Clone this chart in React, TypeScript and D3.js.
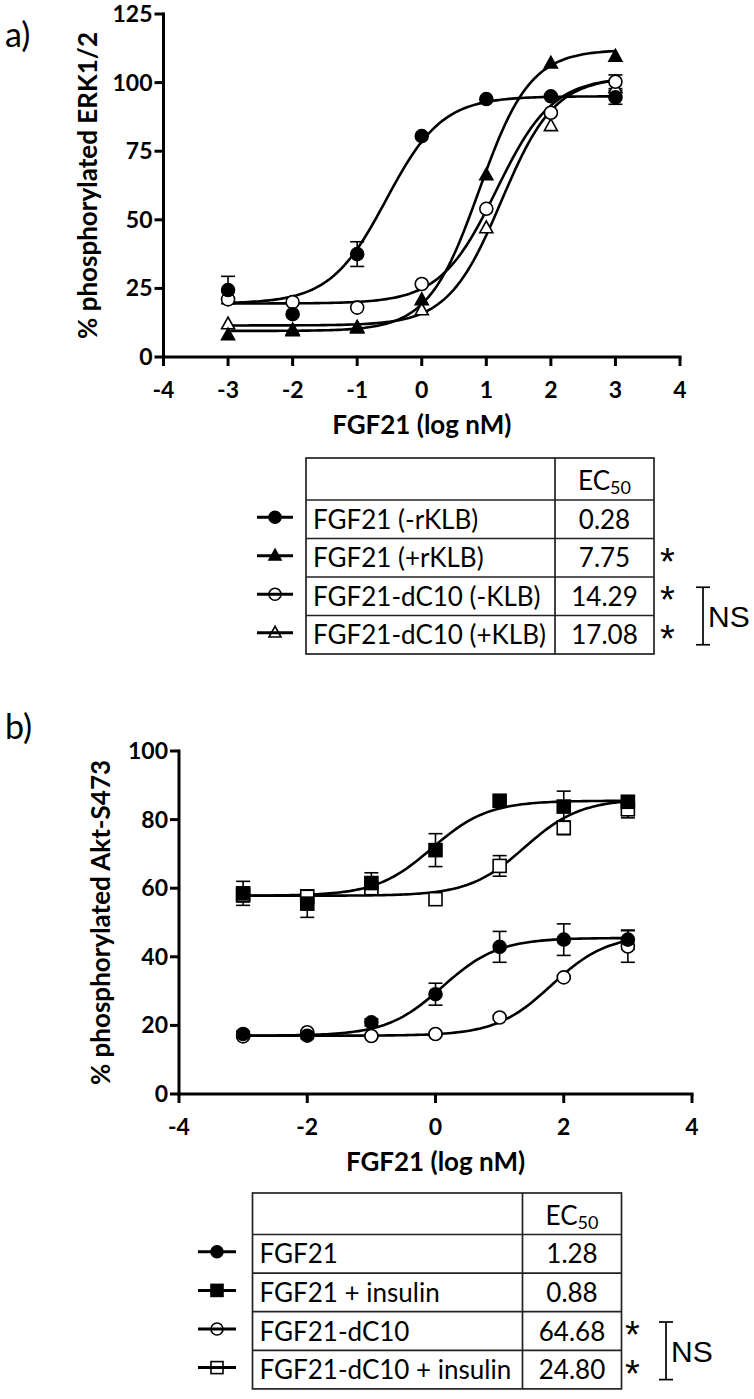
import React from 'react';
import * as d3 from 'd3';

// ---------- data ----------
const doses = [-3, -2, -1, 0, 1, 2, 3];

// Panel a: % phosphorylated ERK1/2
const aFgf21MinusKLB = [24.4, 15.6, 37.5, 80.5, 94, 95, 94.6];
const aFgf21MinusKLBErr = [5, 0, 4.5, 0, 0, 0, 2.5];
const aFgf21PlusKLB = [8, 9.5, 10.5, 20.8, 66.3, 107, 109.5];
const aFgf21PlusKLBErr = [0, 0, 0, 0, 0, 0, 0];
const aDC10MinusKLB = [21, 20, 18, 26.6, 54, 89, 100.3];
const aDC10MinusKLBErr = [0, 0, 0, 0, 0, 0, 2.5];
const aDC10PlusKLB = [12, 9.8, 10.8, 17.1, 47, 84.2, 98];
const aDC10PlusKLBErr = [0, 0, 0, 0, 0, 0, 0];
// fit params [bottom, top, logEC50, hill]
const aFitFgf21MinusKLB = [19.5, 95, -0.553, 1.0];
const aFitFgf21PlusKLB = [9.5, 112, 0.889, 1.1];
const aFitDC10MinusKLB = [19.5, 102, 1.155, 1.0];
const aFitDC10PlusKLB = [11.5, 102, 1.232, 1.05];

const aLabels = ['FGF21 (-rKLB)', 'FGF21 (+rKLB)', 'FGF21-dC10 (-KLB)', 'FGF21-dC10 (+KLB)'];
const aEC50 = ['0.28', '7.75', '14.29', '17.08'];
const aStars = [false, true, true, true];
const aTicksY = [0, 25, 50, 75, 100, 125];
const aTicksX = [-4, -3, -2, -1, 0, 1, 2, 3, 4];

// Panel b: % phosphorylated Akt-S473
const bFgf21 = [17.5, 17, 20.9, 29.1, 42.9, 45, 45];
const bFgf21Err = [0.8, 0.8, 1, 3.2, 4.5, 4.6, 2.8];
const bFgf21Ins = [58.5, 55.5, 61.5, 71.1, 85.5, 83.8, 85.2];
const bFgf21InsErr = [3.5, 4, 3, 4.8, 0, 4.5, 1];
const bDC10 = [16.8, 18, 16.9, 17.5, 22.3, 34, 43];
const bDC10Err = [0.5, 0.5, 0.5, 0.5, 0.5, 0.5, 4.6];
const bDC10Ins = [58, 57.5, 60, 56.8, 66.5, 77.6, 83];
const bDC10InsErr = [2, 2, 1, 0, 3, 2, 2.5];
const bFitFgf21 = [17, 45.5, 0.107, 1.0];
const bFitFgf21Ins = [57.8, 85.5, -0.055, 1.0];
const bFitDC10 = [17, 46.5, 1.81, 1.0];
const bFitDC10Ins = [57.8, 86, 1.39, 1.0];

const bLabels = ['FGF21', 'FGF21 + insulin', 'FGF21-dC10', 'FGF21-dC10 + insulin'];
const bEC50 = ['1.28', '0.88', '64.68', '24.80'];
const bStars = [false, false, true, true];
const bTicksY = [0, 20, 40, 60, 80, 100];
const bTicksX = [-4, -2, 0, 2, 4];

// ---------- helpers ----------
type Shape = 'circle' | 'triangle' | 'square';
interface Series { y: number[]; err: number[]; fit: number[]; shape: Shape; filled: boolean; }

const LABEL_FONT = 'Lato, "Open Sans", sans-serif';
const ARIAL = '"Liberation Sans", Arial, sans-serif';

function fourPL(p: number[], x: number) {
  const [bottom, top, logEC50, hill] = p;
  return bottom + (top - bottom) / (1 + Math.pow(10, (logEC50 - x) * hill));
}

function Marker({ shape, filled, cx, cy, s, hollow }: { shape: Shape; filled: boolean; cx: number; cy: number; s: number; hollow?: boolean }) {
  const fill = filled ? '#000' : (hollow ? 'none' : '#fff');
  const sw = 1.6;
  if (shape === 'circle') return <circle cx={cx} cy={cy} r={s / 2} fill={fill} stroke="#000" strokeWidth={sw} />;
  if (shape === 'square') return <rect x={cx - s / 2} y={cy - s / 2} width={s} height={s} fill={fill} stroke="#000" strokeWidth={sw} />;
  const h = s * 0.9;
  const pts = `${cx},${cy - h * 0.6} ${cx - s / 2},${cy + h * 0.4} ${cx + s / 2},${cy + h * 0.4}`;
  return <polygon points={pts} fill={fill} stroke="#000" strokeWidth={sw} />;
}

interface PanelProps {
  series: Series[];
  xRange: [number, number];
  yRange: [number, number];
  yMax: number;
  ticksX: number[];
  ticksY: number[];
  yTitle: string;
  yTitleX: number;
  tag: string;
  tagY: number;
}

function Panel({ series, xRange, yRange, yMax, ticksX, ticksY, yTitle, yTitleX, tag, tagY }: PanelProps) {
  const x = d3.scaleLinear().domain([-4, 4]).range(xRange);
  const y = d3.scaleLinear().domain([0, yMax]).range(yRange);
  const xs = d3.range(-3, 3.0001, 0.05);
  const x0 = xRange[0];
  const yBase = yRange[0];
  const drawOrder = series.map((_, i) => i).reverse();
  return (
    <g>
      <text x={5} y={tagY} fontFamily={LABEL_FONT} fontSize={34} fill="#000">{tag}</text>
      {series.map((s, i) => {
        const gen = d3.line<number>().x((d) => x(d)).y((d) => y(fourPL(s.fit, d)));
        return <path key={'c' + i} d={gen(xs) || ''} fill="none" stroke="#000" strokeWidth={2.6} />;
      })}
      {series.map((s, i) => (
        <g key={'e' + i}>
          {doses.map((d, j) => s.err[j] > 0 ? (
            <g key={j} stroke="#000" strokeWidth={1.6}>
              <line x1={x(d)} x2={x(d)} y1={y(s.y[j] - s.err[j])} y2={y(s.y[j] + s.err[j])} />
              <line x1={x(d) - 7} x2={x(d) + 7} y1={y(s.y[j] + s.err[j])} y2={y(s.y[j] + s.err[j])} />
              <line x1={x(d) - 7} x2={x(d) + 7} y1={y(s.y[j] - s.err[j])} y2={y(s.y[j] - s.err[j])} />
            </g>
          ) : null)}
        </g>
      ))}
      {drawOrder.map((i) => {
        const s = series[i];
        return (
          <g key={'m' + i}>
            {doses.map((d, j) => <Marker key={j} shape={s.shape} filled={s.filled} cx={x(d)} cy={y(s.y[j])} s={13} />)}
          </g>
        );
      })}
      <g stroke="#000" strokeWidth={3} fill="none">
        <line x1={x0} x2={x0} y1={y(yMax) - 1.5} y2={yBase + 1.5} />
        <line x1={x0 - 1.5} x2={xRange[1] + 1.5} y1={yBase} y2={yBase} />
        {ticksY.map((t) => <line key={'ty' + t} x1={x0 - 9} x2={x0} y1={y(t)} y2={y(t)} />)}
        {ticksX.map((t) => <line key={'tx' + t} x1={x(t)} x2={x(t)} y1={yBase} y2={yBase + 9} />)}
      </g>
      <g fontFamily={LABEL_FONT} fontWeight={700} fontSize={23} fill="#000">
        {ticksY.map((t) => <text key={'ly' + t} x={x0 - 11} y={y(t) + 8} textAnchor="end">{t}</text>)}
        {ticksX.map((t) => <text key={'lx' + t} x={x(t)} y={yBase + 41} textAnchor="middle">{t}</text>)}
      </g>
      <text x={(xRange[0] + xRange[1]) / 2} y={yBase + 77} textAnchor="middle" fontFamily={LABEL_FONT} fontWeight={700} fontSize={26}>FGF21 (log nM)</text>
      <text transform={`translate(${yTitleX},${(yRange[0] + yRange[1]) / 2}) rotate(-90)`} textAnchor="middle" fontFamily={LABEL_FONT} fontWeight={700} fontSize={26}>{yTitle}</text>
    </g>
  );
}

interface TableProps {
  left: number; mid: number; right: number; top: number; headerH: number; rowH: number;
  labels: string[]; values: string[]; stars: boolean[]; series: Series[];
  legX1: number; legX2: number; starX: number; nsX: number; nsRows: [number, number];
}

function EcTable({ left, mid, right, top, headerH, rowH, labels, values, stars, series, legX1, legX2, starX, nsX, nsRows }: TableProps) {
  const rowTop = (i: number) => top + headerH + i * rowH;
  const rowC = (i: number) => rowTop(i) + rowH / 2;
  const bottom = rowTop(labels.length);
  const legC = (legX1 + legX2) / 2;
  const nsTop = rowC(nsRows[0]) - 9;
  const nsBot = rowC(nsRows[1]) + 10;
  return (
    <g>
      <g stroke="#222" strokeWidth={1.7} fill="none">
        <rect x={left} y={top} width={right - left} height={bottom - top} />
        <line x1={mid} x2={mid} y1={top} y2={bottom} />
        {labels.map((_, i) => <line key={i} x1={left} x2={right} y1={rowTop(i)} y2={rowTop(i)} />)}
      </g>
      <text x={(mid + right) / 2} y={top + headerH - 10} textAnchor="middle" fontFamily={LABEL_FONT} fontSize={26}>
        EC<tspan fontSize={18} dy={4}>50</tspan>
      </text>
      {labels.map((l, i) => (
        <g key={i}>
          <text x={left + 7} y={rowC(i) + 9.5} fontFamily={LABEL_FONT} fontSize={26}>{l}</text>
          <text x={(mid + right) / 2} y={rowC(i) + 9.5} textAnchor="middle" fontFamily={LABEL_FONT} fontSize={26}>{values[i]}</text>
          {stars[i] ? <text x={starX} y={rowC(i) + 17} fontFamily={ARIAL} fontSize={38}>*</text> : null}
          <line x1={legX1} x2={legX2} y1={rowC(i) - 2} y2={rowC(i) - 2} stroke="#000" strokeWidth={3} />
          <Marker shape={series[i].shape} filled={series[i].filled} hollow cx={legC} cy={rowC(i) - 2} s={12} />
        </g>
      ))}
      <g stroke="#000" strokeWidth={1.7}>
        <line x1={nsX} x2={nsX} y1={nsTop} y2={nsBot} />
        <line x1={nsX - 7} x2={nsX + 7} y1={nsTop} y2={nsTop} />
        <line x1={nsX - 7} x2={nsX + 7} y1={nsBot} y2={nsBot} />
      </g>
      <text x={nsX + 5} y={(nsTop + nsBot) / 2 + 11} fontFamily={ARIAL} fontSize={30}>NS</text>
    </g>
  );
}

export default function App() {
  const aSeries: Series[] = [
    { y: aFgf21MinusKLB, err: aFgf21MinusKLBErr, fit: aFitFgf21MinusKLB, shape: 'circle', filled: true },
    { y: aFgf21PlusKLB, err: aFgf21PlusKLBErr, fit: aFitFgf21PlusKLB, shape: 'triangle', filled: true },
    { y: aDC10MinusKLB, err: aDC10MinusKLBErr, fit: aFitDC10MinusKLB, shape: 'circle', filled: false },
    { y: aDC10PlusKLB, err: aDC10PlusKLBErr, fit: aFitDC10PlusKLB, shape: 'triangle', filled: false },
  ];
  const bSeries: Series[] = [
    { y: bFgf21, err: bFgf21Err, fit: bFitFgf21, shape: 'circle', filled: true },
    { y: bFgf21Ins, err: bFgf21InsErr, fit: bFitFgf21Ins, shape: 'square', filled: true },
    { y: bDC10, err: bDC10Err, fit: bFitDC10, shape: 'circle', filled: false },
    { y: bDC10Ins, err: bDC10InsErr, fit: bFitDC10Ins, shape: 'square', filled: false },
  ];
  return (
    <svg width={754} height={1399} style={{ position: 'absolute', left: 0, top: 0, background: '#fff' }}>
      <rect width={754} height={1399} fill="#fff" />
      <Panel series={aSeries} xRange={[163.5, 680]} yRange={[357, 14]} yMax={125} ticksX={aTicksX} ticksY={aTicksY}
        yTitle="% phosphorylated ERK1/2" yTitleX={97} tag="a)" tagY={47} />
      <EcTable left={306} mid={555} right={654} top={458} headerH={42} rowH={38.5}
        labels={aLabels} values={aEC50} stars={aStars} series={aSeries}
        legX1={257} legX2={293} starX={660} nsX={703} nsRows={[2, 3]} />
      <Panel series={bSeries} xRange={[179, 692]} yRange={[1094, 751]} yMax={100} ticksX={bTicksX} ticksY={bTicksY}
        yTitle="% phosphorylated Akt-S473" yTitleX={110} tag="b)" tagY={739} />
      <EcTable left={252.5} mid={522.5} right={621.5} top={1193} headerH={41.5} rowH={38.6}
        labels={bLabels} values={bEC50} stars={bStars} series={bSeries}
        legX1={198} legX2={236} starX={625} nsX={666} nsRows={[2, 3]} />
    </svg>
  );
}
